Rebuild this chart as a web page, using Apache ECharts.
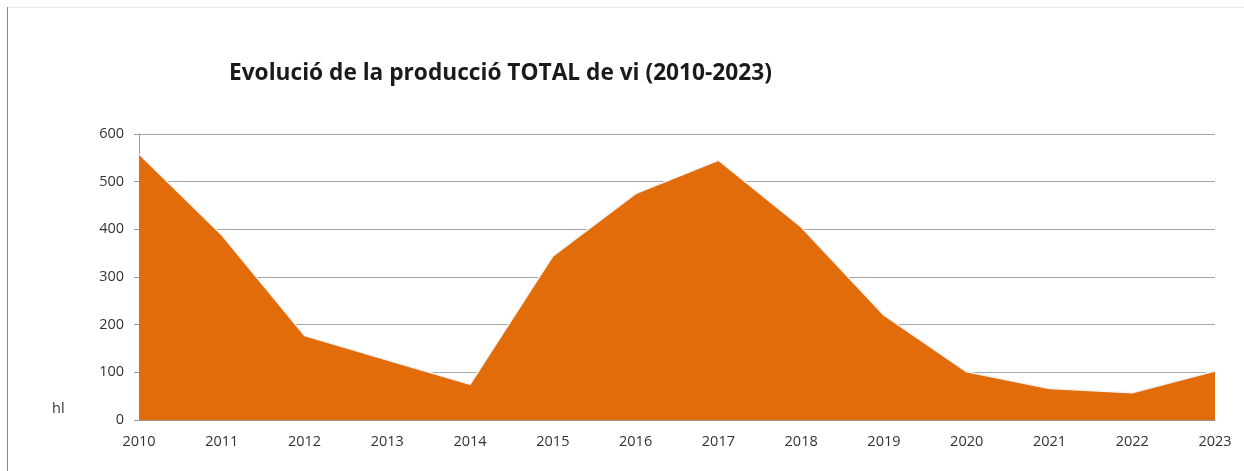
<!DOCTYPE html>
<html>
<head>
<meta charset="utf-8">
<script src="https://cdn.jsdelivr.net/npm/echarts@6/dist/echarts.min.js"></script>
<style>
  html, body { margin: 0; padding: 0; background: #fff; }
  #chart { width: 1244px; height: 471px; }
</style>
</head>
<body>
<div id="chart"></div>
<script>
  // dades llegides del gràfic (hl)
  const years = ['2010', '2011', '2012', '2013', '2014', '2015', '2016',
    '2017', '2018', '2019', '2020', '2021', '2022', '2023']
  const produccio = [558, 388, 177, 126, 75, 344, 475, 545, 405, 220, 101, 66, 57, 103]
  const yTicks = [0, 100, 200, 300, 400, 500, 600]

  const font = '"Open Sans", "Noto Sans", sans-serif'
  const chart = echarts.init(document.getElementById('chart'))

  chart.setOption({
    animation: false,
    title: {
      text: 'Evolució de la producció TOTAL de vi (2010-2023)',
      left: 224,
      top: 57,
      textStyle: {
        fontFamily: font,
        fontSize: 22.7,
        fontWeight: 'bold',
        color: '#1a1a1a'
      }
    },
    graphic: [
      // marc del requadre
      {type: 'line', shape: {x1: 7.5, y1: 7, x2: 7.5, y2: 471}, style: {stroke: '#8c8c8c', lineWidth: 1}},
      {type: 'line', shape: {x1: 8, y1: 7.5, x2: 1244, y2: 7.5}, style: {stroke: '#ececec', lineWidth: 1}},
      {
        type: 'text', left: 52, top: 401,
        style: {text: 'hl', fontFamily: font, fontSize: 14.5, fill: '#333'}
      }
    ],
    grid: {
      left: 139,
      right: 29,
      top: 134,
      bottom: 51,
      containLabel: false
    },
    xAxis: {
      type: 'category',
      data: years,
      boundaryGap: false,
      axisTick: {show: false},
      axisLine: {lineStyle: {color: '#999', width: 1}},
      axisLabel: {
        margin: 14,
        fontFamily: font,
        fontSize: 14.5,
        color: '#333'
      }
    },
    yAxis: {
      type: 'value',
      min: yTicks[0],
      max: yTicks[yTicks.length - 1],
      interval: 100,
      axisLine: {show: true, lineStyle: {color: '#999'}},
      axisTick: {show: true, length: 5, lineStyle: {color: '#999'}},
      axisLabel: {
        margin: 15,
        fontFamily: font,
        fontSize: 14.5,
        color: '#333'
      },
      splitLine: {lineStyle: {color: '#a6a6a6', width: 1}}
    },
    series: [{
      type: 'line',
      data: produccio,
      symbol: 'none',
      lineStyle: {color: '#f2f2f2', width: 1.5},
      areaStyle: {color: '#E36C0A', opacity: 1}
    }]
  })
</script>
</body>
</html>
